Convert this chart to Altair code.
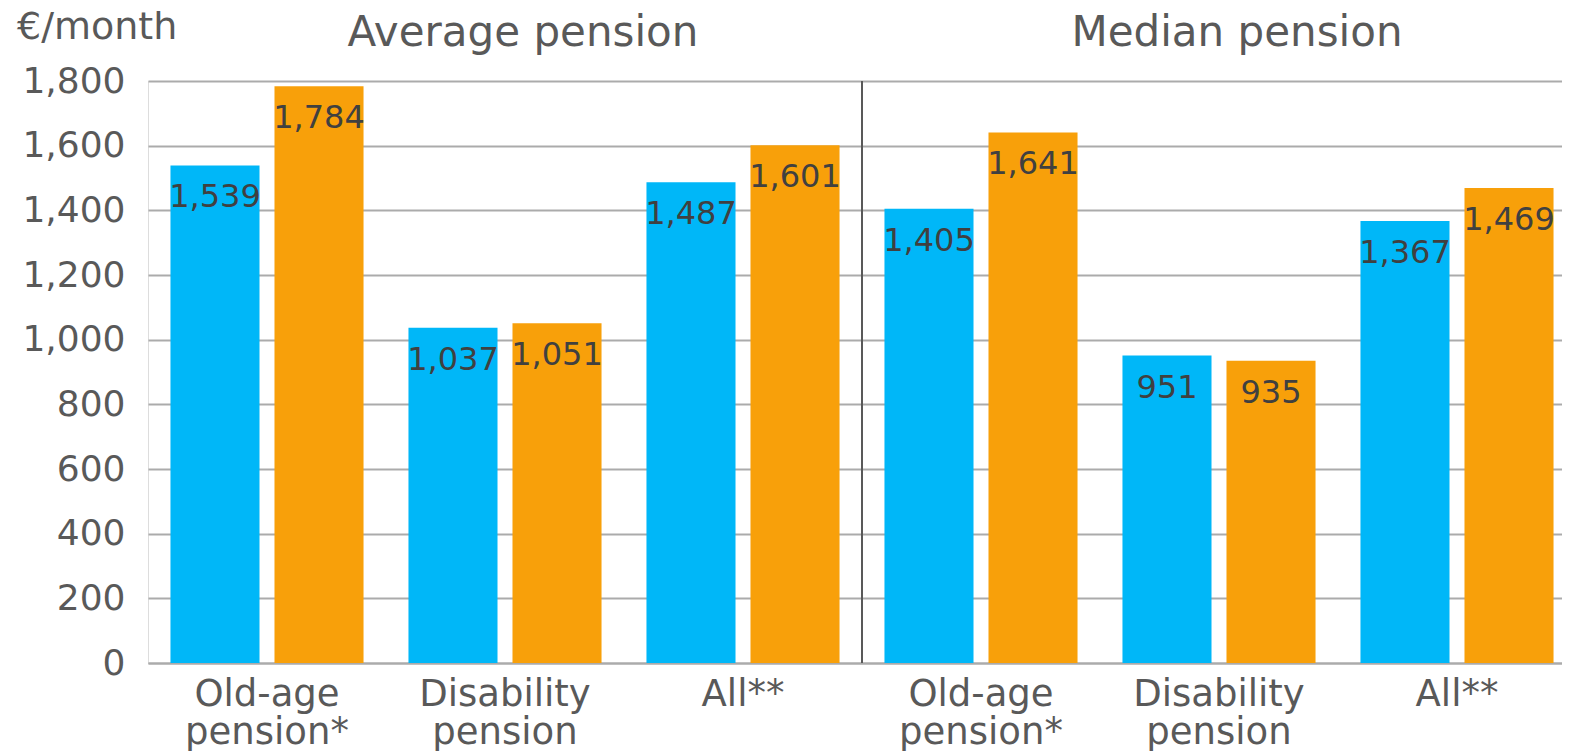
import altair as alt
import pandas as pd

# ---- data ----
keys = ["A|Old-age|pension*", "A|Disability|pension", "A|All**",
        "M|Old-age|pension*", "M|Disability|pension", "M|All**"]
series = ["Series 1", "Series 2"]
series1_values = [1539, 1037, 1487, 1405, 951, 1367]
series2_values = [1784, 1051, 1601, 1641, 935, 1469]
panel_titles = ["Average pension", "Median pension"]
panel_title_keys = ["A|Disability|pension", "M|Disability|pension"]
y_ticks = [0, 200, 400, 600, 800, 1000, 1200, 1400, 1600, 1800]
unit_label = "€/month"

rows = []
for k, v1, v2 in zip(keys, series1_values, series2_values):
    rows.append({"key": k, "series": series[0], "value": v1})
    rows.append({"key": k, "series": series[1], "value": v2})
df = pd.DataFrame(rows)

FONT = "DejaVu Sans"
GREY = "#595959"
colors = ["#00B7F8", "#F8A00A"]

x_scale = alt.Scale(domain=keys, range=[0, 1428], paddingInner=0, paddingOuter=0)
x_enc = alt.X("key:N", scale=x_scale, sort=keys,
              axis=alt.Axis(title=None, labelExpr="slice(split(datum.label, '|'), 1)",
                            labelFont=FONT, labelFontSize=37, labelColor=GREY,
                            labelLineHeight=38, labelPadding=13, ticks=False,
                            domain=True, domainColor="#ababab", domainWidth=2,
                            labelAngle=0, grid=False))
xoff = alt.XOffset("series:N", sort=series,
                   scale=alt.Scale(paddingInner=0.144, paddingOuter=0.216))
y_enc = alt.Y("value:Q", scale=alt.Scale(domain=[0, 1800], nice=False),
              axis=alt.Axis(title=None, values=y_ticks, format=",d",
                            labelFont=FONT, labelFontSize=36, labelColor=GREY,
                            labelPadding=23, ticks=False, domain=False,
                            grid=True, gridColor="#ababab", gridWidth=2))

bars = alt.Chart(df).mark_bar().encode(
    x=x_enc, xOffset=xoff, y=y_enc,
    color=alt.Color("series:N", sort=series,
                    scale=alt.Scale(domain=series, range=colors), legend=None),
)

labels = alt.Chart(df).mark_text(font=FONT, fontSize=32, color="#404040",
                                 baseline="middle", dy=32).encode(
    x=alt.X("key:N", scale=x_scale, sort=keys), xOffset=xoff,
    y=alt.Y("value:Q"), text=alt.Text("value:Q", format=",d"),
)

divider = alt.Chart(pd.DataFrame({"key": [keys[3]]})).mark_rule(
    color=GREY, strokeWidth=2).encode(
    x=alt.X("key:N", scale=x_scale, sort=keys, bandPosition=0),
    y=alt.value(0), y2=alt.value(582),
)

titles = alt.Chart(pd.DataFrame({"key": panel_title_keys, "t": panel_titles})).mark_text(
    font=FONT, fontSize=42, color=GREY, baseline="alphabetic", dx=18).encode(
    x=alt.X("key:N", scale=x_scale, sort=keys),
    y=alt.value(-35), text="t:N",
)

unit = alt.Chart(pd.DataFrame({"t": [unit_label]})).mark_text(
    font=FONT, fontSize=38, color=GREY, align="left", baseline="alphabetic").encode(
    x=alt.value(-131), y=alt.value(-42), text="t:N",
)

chart = alt.layer(bars, labels, divider, titles, unit).properties(
    width=1414, height=582,
    padding={"left": 140, "top": 73, "right": 0, "bottom": 88},
    autosize=alt.AutoSizeParams(type="none"),
).configure_view(stroke=None).configure(background="white")

chart.save("out.html", embed_options={"renderer": "svg", "actions": False})
